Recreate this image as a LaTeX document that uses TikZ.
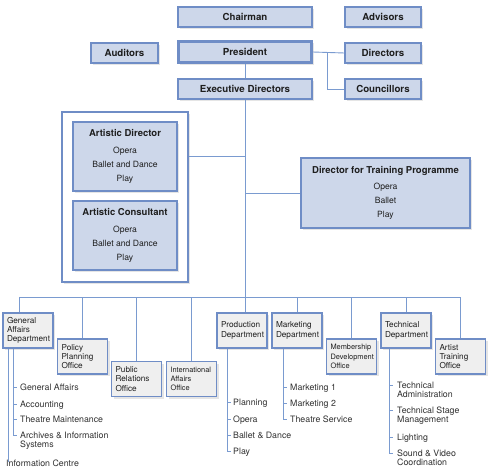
\documentclass[tikz,border=0pt]{standalone}
\usepackage{fontspec}
\setmainfont{TeX Gyre Heros}
\usetikzlibrary{shadows}

\definecolor{boxfill}{RGB}{205,215,234}
\definecolor{boxline}{RGB}{111,141,198}
\definecolor{linkline}{RGB}{122,155,208}
\definecolor{deptfill}{RGB}{239,239,239}
\definecolor{txt}{RGB}{30,30,30}
\definecolor{itemtxt}{RGB}{50,50,50}

\tikzset{
  boxshadow/.style={drop shadow={shadow xshift=2pt,shadow yshift=-2pt,opacity=0.2}},
  head/.style={draw=boxline,fill=boxfill,line width=1.2pt,minimum height=20pt,inner sep=0pt,
    text=txt,font=\fontsize{9.7}{11}\selectfont\bfseries,boxshadow},
  post/.style={draw=boxline,fill=boxfill,line width=1.2pt,inner sep=0pt,align=center,
    text=txt,font=\fontsize{8.6}{14}\selectfont,boxshadow},
  dept/.style={draw=boxline,fill=deptfill,line width=1.2pt,minimum height=35pt,
    text width=42pt,inner xsep=4pt,inner ysep=0pt,align=left,text=txt,
    font=\fontsize{8.2}{9.2}\selectfont,boxshadow},
  item/.style={anchor=north west,inner sep=0pt,align=left,text=itemtxt,
    font=\fontsize{8.8}{9}\selectfont},
  link/.style={draw=linkline,line width=0.9pt}
}

\begin{document}
\begin{tikzpicture}[x=1pt,y=-1pt]
\fill[white] (0,0) rectangle (490,470);
\useasboundingbox (0,0) rectangle (490,470);

% top boxes
\node[head,minimum width=134pt] (chair) at (245,17) {Chairman};
\node[head,minimum width=76pt] (adv) at (383,17) {Advisors};
\node[head,minimum width=67pt] (aud) at (124.5,53) {Auditors};
\node[head,minimum width=134pt,minimum height=22pt,line width=1.6pt] (pres) at (245,52) {President};
\draw[boxline,line width=0.7pt] ([shift={(2.6,2.6)}]pres.north west) rectangle ([shift={(-2.6,-2.6)}]pres.south east);
\node[head,minimum width=76pt] (dirs) at (383,53) {Directors};
\node[head,minimum width=134pt] (exec) at (245,89) {Executive Directors};
\node[head,minimum width=76pt] (coun) at (383,89) {Councillors};
\coordinate (cbr) at (327,53);

% artistic group
\node[draw=boxline,fill=white,line width=1.2pt,minimum width=126pt,minimum height=170pt,boxshadow] (art) at (125,197) {};
\node[post,minimum width=104pt,minimum height=69pt] (artdir) at (125,156.5)
  {{\fontsize{9.5}{11}\selectfont\bfseries Artistic Director}\\[2.5pt] Opera\\ Ballet and Dance\\ Play};
\node[post,minimum width=104pt,minimum height=69pt] (artcon) at (125,235.5)
  {{\fontsize{9.5}{11}\selectfont\bfseries Artistic Consultant}\\[2.5pt] Opera\\ Ballet and Dance\\ Play};
\node[post,minimum width=169pt,minimum height=70pt] (train) at (385.5,193)
  {{\fontsize{9.5}{11}\selectfont\bfseries Director for Training Programme}\\[2.5pt] Opera\\ Ballet\\ Play};

% departments
\node[dept] (ga) at (28,330.5) {General\\ Affairs\\ Department};
\node[dept] (pp) at (82.5,356.5) {Policy\\ Planning\\ Office};
\node[dept] (pr) at (136.5,379) {Public\\ Relations\\ Office};
\node[dept,font=\fontsize{7.4}{9.2}\selectfont] (ia) at (191.5,379) {International\\ Affairs\\ Office};
\node[dept] (prod) at (242,330.5) {Production\\ Department};
\node[dept] (mk) at (297,330.5) {Marketing\\ Department};
\node[dept,font=\fontsize{7.4}{9.2}\selectfont] (mb) at (351.5,356.5) {Membership\\ Development\\ Office};
\node[dept] (td) at (406,330.5) {Technical\\ Department};
\node[dept] (at) at (460.5,356.5) {Artist\\ Training\\ Office};
\coordinate (barL) at (19,297);
\coordinate (barR) at (461,297);

% connectors
\draw[link] (pres.east) -- (dirs.west);
\draw[link] (cbr) |- (coun.west);
\draw[link] (pres.south) -- (exec.north);
\draw[link] (exec.south) -- (exec.south |- prod.north);
\draw[link] (art.east |- artdir) -- (exec.south |- artdir);
\draw[link] (exec.south |- train.west) -- (train.west);
\draw[link] (barL) -- (barR);
\draw[link] (barL) -- (barL |- ga.north);
\foreach \n in {pp,pr,ia,mk,mb,td,at}
  \draw[link] (\n.north) -- (\n.north |- barL);

% sub-units
\foreach \y/\t [count=\i] in {387/General Affairs,404/Accounting,419/Theatre Maintenance,435/{Archives \& Information\\Systems}}
  \node[item] (ga\i) at (20,\y-3.5) {\t};
\foreach \i in {1,2,3}
  \draw[link] ([shift={(-7,3.5)}]ga\i.north west) -- ++(4,0);
\draw[link] (ga.south -| 13,0) |- ([shift={(-3,3.5)}]ga4.north west);
\node[item,anchor=west] (gic) at (6,463) {Information Centre};
\draw[link] (ga.south -| 8,0) -- ([yshift=-3pt]gic.north -| 8,0);

\foreach \y/\t [count=\i] in {402/Planning,419/Opera,435/Ballet \& Dance,451/Play}
  \node[item] (pd\i) at (233,\y-3.5) {\t};
\foreach \i in {1,2,3}
  \draw[link] ([shift={(-6,3.5)}]pd\i.north west) -- ++(4,0);
\draw[link] (prod.south -| 227,0) |- ([shift={(-2,3.5)}]pd4.north west);

\foreach \y/\t [count=\i] in {387/Marketing 1,403/Marketing 2,419/Theatre Service}
  \node[item] (mk\i) at (290,\y-3.5) {\t};
\foreach \i in {1,2}
  \draw[link] ([shift={(-7,3.5)}]mk\i.north west) -- ++(4,0);
\draw[link] (mk.south -| 283,0) |- ([shift={(-3,3.5)}]mk3.north west);

\foreach \y/\t [count=\i] in {385/{Technical\\Administration},410.5/{Technical Stage\\Management},437/Lighting,453/{Sound \& Video\\Coordination}}
  \node[item] (td\i) at (397,\y-3.5) {\t};
\foreach \i in {1,2,3}
  \draw[link] ([shift={(-8,3.5)}]td\i.north west) -- ++(4,0);
\draw[link] (td.south -| 389,0) |- ([shift={(-4,3.5)}]td4.north west);

\end{tikzpicture}
\end{document}
